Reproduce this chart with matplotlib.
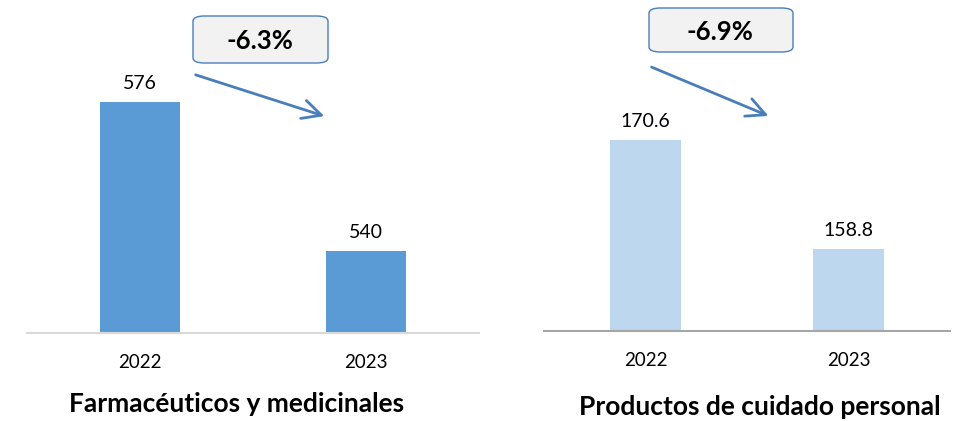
import matplotlib
matplotlib.use("Agg")
import matplotlib.pyplot as plt
from matplotlib.patches import FancyBboxPatch

# datos
years = ["2022", "2023"]
farma = [576, 540]
cuidado = [170.6, 158.8]
farma_label = ["576", "540"]
cuidado_label = ["170.6", "158.8"]
titles = ["Farmacéuticos y medicinales", "Productos de cuidado personal"]
cambios = ["-6.3%", "-6.9%"]

plt.rcParams['font.family'] = ['Lato', 'DejaVu Sans']

W, H = 964, 421
fig = plt.figure(figsize=(W / 100, H / 100), dpi=100)

def px_ax(x0, x1, y_base):
    # rect de ejes en coordenadas de figura (desde la línea base hasta arriba)
    return [x0 / W, 1 - y_base / H, (x1 - x0) / W, y_base / H]

ax1 = fig.add_axes(px_ax(27, 479, 333))
ax2 = fig.add_axes(px_ax(544, 950, 331))

specs = [
    (ax1, farma, farma_label, "#5B9BD5", (520.2, 600.6), "#D9D9D9"),
    (ax2, cuidado, cuidado_label, "#BDD7EE", (149.9, 185.8), "#A6A6A6"),
]

for ax, vals, labs, color, ylim, axcol in specs:
    x = range(len(years))
    bars = ax.bar(x, vals, width=0.35, color=color, zorder=2)
    ax.set_xlim(-0.5, 1.5)
    ax.set_ylim(*ylim)
    for b, lab in zip(bars, labs):
        ax.annotate(lab, (b.get_x() + b.get_width() / 2, b.get_height()),
                    xytext=(0, 7), textcoords="offset points",
                    ha="center", va="bottom", fontsize=14, color="#000000")
    ax.set_xticks(list(x))
    ax.set_xticklabels(years, fontsize=13.5)
    ax.tick_params(axis="x", length=0, pad=15)
    ax.set_yticks([])
    for s in ["top", "right", "left"]:
        ax.spines[s].set_visible(False)
    ax.spines["bottom"].set_color(axcol)
    ax.spines["bottom"].set_linewidth(1.5)
    ax.patch.set_alpha(0)

# títulos de cada panel
fig.text(237 / W, 1 - 404 / H, titles[0], ha="center", va="center",
         fontsize=19, fontweight="bold")
fig.text(760 / W, 1 - 407 / H, titles[1], ha="center", va="center",
         fontsize=19, fontweight="bold")

# cajas con la variación y flechas
boxes = [((193, 16, 328, 63), (260, 41), ((193, 74), (327, 117))),
         ((649, 8, 793, 52), (720, 32), ((649, 66), (771, 117)))]
for ((x0, y0, x1, y1), (tx, ty), (p0, p1)), txt in zip(boxes, cambios):
    box = FancyBboxPatch((x0 / W, 1 - y1 / H), (x1 - x0) / W, (y1 - y0) / H,
                         boxstyle="round,pad=0,rounding_size=0.012",
                         transform=fig.transFigure, facecolor="#F2F2F2",
                         edgecolor="#4A7EBB", linewidth=1.0)
    fig.add_artist(box)
    fig.text(tx / W, 1 - ty / H, txt, ha="center", va="center",
             fontsize=18.5, fontweight="bold")
    fig.add_artist(matplotlib.patches.FancyArrowPatch(
        (p0[0] / W, 1 - p0[1] / H), (p1[0] / W, 1 - p1[1] / H),
        transform=fig.transFigure, arrowstyle="->,head_length=9,head_width=4.5",
        color="#4A7EBB", linewidth=2, mutation_scale=1.5))

fig.savefig("out.png", dpi=100)
